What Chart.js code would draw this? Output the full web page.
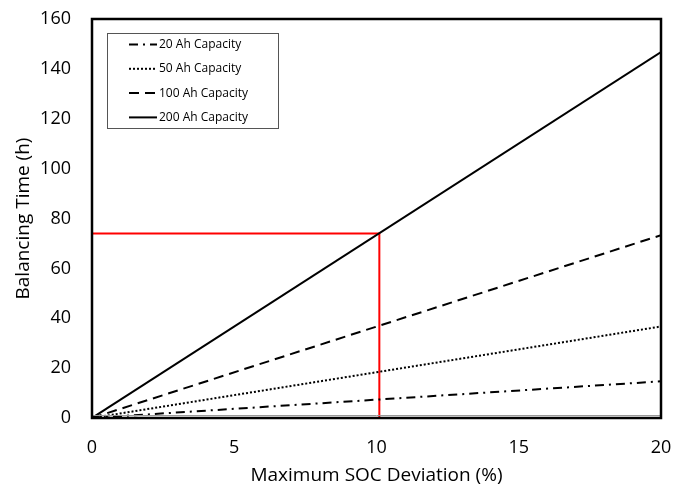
<!DOCTYPE html>
<html>
<head>
<meta charset="utf-8">
<script src="https://cdn.jsdelivr.net/npm/chart.js@4.4.1/dist/chart.umd.min.js"></script>
<style>
  html, body { margin: 0; padding: 0; background: #fff; }
  #wrap { width: 673px; height: 487px; }
</style>
</head>
<body>
<div id="wrap"><canvas id="chart" width="673" height="487"></canvas></div>
<script>
// SOC deviation (%) at the two ends of each line
let socDev = [0, 20];
let time20 = [0, 14.7];
let time50 = [0, 36.7];
let time100 = [0, 73.3];
let time200 = [0, 146.7];

// red marker: 10.1 % deviation -> ~74 h
let markX = 10.1;
let markY = 74;

let xTicks = [0, 5, 10, 15, 20];
let yTicks = [0, 20, 40, 60, 80, 100, 120, 140, 160];

function pts(xs, ys) {
  let out = [];
  for (let i = 0; i < xs.length; i++) out.push({ x: xs[i], y: ys[i] });
  return out;
}

let font = "'Open Sans', 'DejaVu Sans', sans-serif";

let series = [
  { label: "20 Ah Capacity", data: time20, dash: [9, 5, 2, 5] },
  { label: "50 Ah Capacity", data: time50, dash: [2, 2] },
  { label: "100 Ah Capacity", data: time100, dash: [10, 6] },
  { label: "200 Ah Capacity", data: time200, dash: [] }
];

let datasets = [];
for (let i = 0; i < series.length; i++) {
  datasets.push({
    label: series[i].label,
    data: pts(socDev, series[i].data),
    borderColor: "#000",
    borderWidth: 2,
    borderDash: series[i].dash,
    pointRadius: 0,
    showLine: true,
    fill: false
  });
}
datasets.push({
  label: "marker",
  data: [{ x: 0, y: markY }, { x: markX, y: markY }, { x: markX, y: 0 }],
  borderColor: "#ff0000",
  borderWidth: 2,
  pointRadius: 0,
  showLine: true,
  fill: false
});

// frame and legend box drawn on top
let framePlugin = {
  id: "frame",
  afterDraw(chart) {
    let c = chart.ctx;
    let a = chart.chartArea;
    c.save();
    c.strokeStyle = "#999";
    c.lineWidth = 1;
    c.beginPath();
    c.moveTo(a.left, a.bottom - 2.5);
    c.lineTo(a.right, a.bottom - 2.5);
    c.stroke();
    c.strokeStyle = "#000";
    c.lineWidth = 2.5;
    c.strokeRect(a.left, a.top, a.right - a.left, a.bottom - a.top);

    // legend
    let lx = 107.5, ly = 33.5, lw = 171, lh = 95;
    c.fillStyle = "#fff";
    c.fillRect(lx, ly, lw, lh);
    c.strokeStyle = "#555";
    c.lineWidth = 1;
    c.strokeRect(lx, ly, lw, lh);
    c.font = "12px " + font;
    c.textBaseline = "middle";
    for (let i = 0; i < series.length; i++) {
      let y = 44.5 + i * 24.3;
      c.strokeStyle = "#000";
      c.lineWidth = 2;
      c.setLineDash(series[i].dash);
      c.beginPath();
      c.moveTo(129, y);
      c.lineTo(157, y);
      c.stroke();
      c.setLineDash([]);
      c.fillStyle = "#000";
      c.fillText(series[i].label, 159, y);
    }
    c.restore();
  }
};

new Chart(document.getElementById("chart").getContext("2d"), {
  type: "scatter",
  data: { datasets: datasets },
  options: {
    responsive: false,
    animation: false,
    layout: { padding: { top: 19, right: 12, left: 0, bottom: 0 } },
    plugins: { legend: { display: false }, tooltip: { enabled: false } },
    scales: {
      x: {
        type: "linear",
        min: 0,
        max: 20,
        afterBuildTicks(s) { s.ticks = xTicks.map(v => ({ value: v })); },
        afterFit(s) { s.height = 69; s.paddingLeft = 0; s.paddingRight = 0; },
        grid: { display: false, drawTicks: false },
        border: { display: false },
        ticks: { color: "#000", padding: 19, font: { family: font, size: 18 } },
        title: { display: true, text: "Maximum SOC Deviation (%)", color: "#000", padding: { top: 2, bottom: 0 }, font: { family: font, size: 19 } }
      },
      y: {
        type: "linear",
        min: 0,
        max: 160,
        afterBuildTicks(s) { s.ticks = yTicks.map(v => ({ value: v })); },
        afterFit(s) { s.width = 92; s.paddingTop = 0; s.paddingBottom = 0; },
        grid: { display: false, drawTicks: false },
        border: { display: false },
        ticks: { color: "#000", padding: 21, font: { family: font, size: 18 } },
        title: { display: true, text: "Balancing Time (h)", color: "#000", padding: { top: 12, bottom: 0 }, font: { family: font, size: 19 } }
      }
    }
  },
  plugins: [framePlugin]
});
</script>
</body>
</html>
